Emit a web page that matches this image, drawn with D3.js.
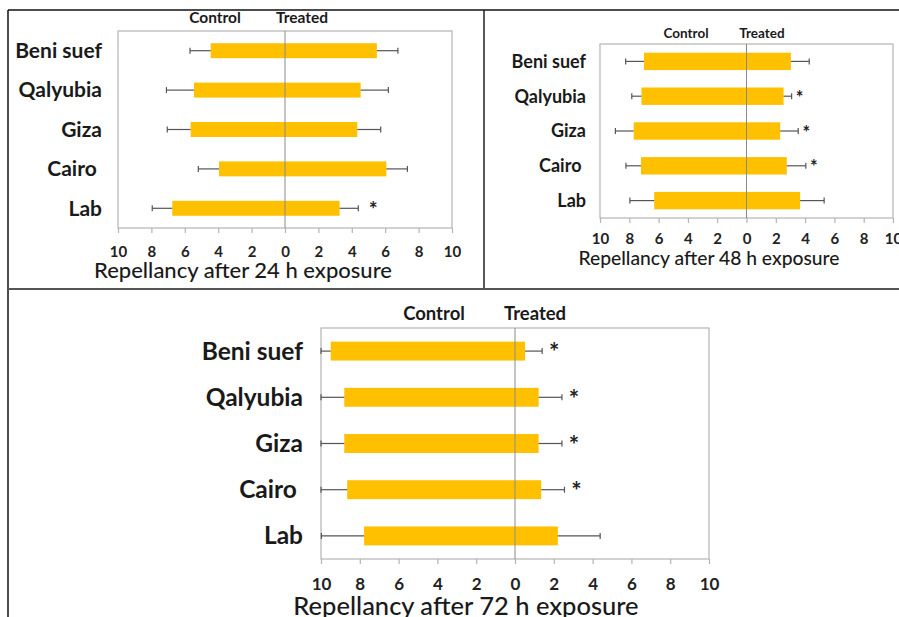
<!DOCTYPE html>
<html>
<head>
<meta charset="utf-8">
<script src="https://cdn.jsdelivr.net/npm/d3@7"></script>
<style>
  body { margin: 0; background: #fff; }
  svg { display: block; font-family: Lato, "Open Sans", sans-serif; }
</style>
</head>
<body>
<div id="chart"></div>
<script>
// regions tested (same order in every panel)
const regions = ["Beni suef", "Qalyubia", "Giza", "Cairo", "Lab"];
const tickVals = [-10, -8, -6, -4, -2, 0, 2, 4, 6, 8, 10];

// 24 h
const control24 = [4.45, 5.45, 5.65, 3.95, 6.75];
const controlErr24 = [1.24, 1.65, 1.4, 1.24, 1.2];
const treated24 = [5.5, 4.53, 4.33, 6.07, 3.27];
const treatedErr24 = [1.26, 1.66, 1.4, 1.26, 1.12];
const signif24 = [false, false, false, false, true];

// 48 h
const control48 = [7.0, 7.17, 7.7, 7.2, 6.3];
const controlErr48 = [1.25, 0.66, 1.25, 1.03, 1.66];
const treated48 = [3.03, 2.53, 2.3, 2.75, 3.66];
const treatedErr48 = [1.25, 0.55, 1.23, 1.3, 1.64];
const signif48 = [false, true, true, true, false];

// 72 h
const control72 = [9.5, 8.8, 8.8, 8.65, 7.78];
const controlErr72 = [0.5, 1.2, 1.2, 1.35, 2.2];
const treated72 = [0.52, 1.22, 1.22, 1.35, 2.21];
const treatedErr72 = [0.88, 1.2, 1.2, 1.2, 2.18];
const signif72 = [true, true, true, true, false];

const width = 899, height = 617;

const svg = d3.select("#chart")
  .append("svg")
  .attr("width", width)
  .attr("height", height);

// panel frame lines
svg.append("line").attr("x1", 8).attr("x2", 899).attr("y1", 10).attr("y2", 10)
  .attr("stroke", "#111").attr("stroke-width", 1.5);
svg.append("line").attr("x1", 8).attr("x2", 8).attr("y1", 10).attr("y2", 617)
  .attr("stroke", "#111").attr("stroke-width", 1.5);
svg.append("line").attr("x1", 484).attr("x2", 484).attr("y1", 10).attr("y2", 289)
  .attr("stroke", "#222").attr("stroke-width", 1.5);
svg.append("line").attr("x1", 8).attr("x2", 899).attr("y1", 289).attr("y2", 289)
  .attr("stroke", "#555").attr("stroke-width", 2);

const panels = [
  {
    control: control24, controlErr: controlErr24, treated: treated24, treatedErr: treatedErr24, signif: signif24,
    title: "Repellancy after 24 h exposure",
    left: 118, right: 452, top: 31, bottom: 228, pad: 0.62,
    catX: 102, catSize: 21, headY: 18, headSize: 15.5, ctrlX: 215, treatX: 302,
    tickY: 252, tickSize: 15, titleX: 243, titleY: 270, titleSize: 22, starGap: 15
  },
  {
    control: control48, controlErr: controlErr48, treated: treated48, treatedErr: treatedErr48, signif: signif48,
    title: "Repellancy after 48 h exposure",
    left: 600, right: 893, top: 44, bottom: 218, pad: 0.5,
    catX: 586, catSize: 18, headY: 33, headSize: 13.5, ctrlX: 686, treatX: 762,
    tickY: 239, tickSize: 15, titleX: 709, titleY: 258, titleSize: 19.3, starGap: 8
  },
  {
    control: control72, controlErr: controlErr72, treated: treated72, treatedErr: treatedErr72, signif: signif72,
    title: "Repellancy after 72 h exposure",
    left: 321, right: 709, top: 328, bottom: 559, pad: 0.59,
    catX: 303, catSize: 24.5, headY: 314, headSize: 18.5, ctrlX: 434, treatX: 535,
    tickY: 584, tickSize: 17, titleX: 466, titleY: 606, titleSize: 25.5, starGap: 12
  }
];

panels.forEach(p => drawPanel(p));

function drawPanel(p) {
  const g = svg.append("g");

  const x = d3.scaleLinear().domain([-10, 10]).range([p.left, p.right]);
  const y = d3.scaleBand().domain(regions).range([p.top, p.bottom]).paddingInner(p.pad).paddingOuter(p.pad / 2);

  const rows = regions.map((r, i) => ({
    region: r,
    control: p.control[i], controlErr: p.controlErr[i],
    treated: p.treated[i], treatedErr: p.treatedErr[i],
    signif: p.signif[i]
  }));

  // plot box
  g.append("rect")
    .attr("x", p.left).attr("y", p.top)
    .attr("width", p.right - p.left).attr("height", p.bottom - p.top)
    .attr("fill", "none").attr("stroke", "#b4b4b4").attr("stroke-width", 1.2);

  // bars: control to the left, treated to the right
  g.selectAll(".bar").data(rows).enter().append("rect")
    .attr("x", d => x(-d.control))
    .attr("y", d => y(d.region))
    .attr("width", d => x(d.treated) - x(-d.control))
    .attr("height", y.bandwidth())
    .attr("fill", "#ffc000");

  // zero line
  g.append("line")
    .attr("x1", x(0)).attr("x2", x(0))
    .attr("y1", p.top).attr("y2", p.bottom)
    .attr("stroke", "#8a8a8a").attr("stroke-width", 1);

  // error bars
  const errs = [];
  rows.forEach(d => {
    errs.push({ region: d.region, from: -d.control, to: Math.max(-10, -d.control - d.controlErr) });
    errs.push({ region: d.region, from: d.treated, to: Math.min(10, d.treated + d.treatedErr) });
  });
  const eb = g.selectAll(".err").data(errs).enter().append("g")
    .attr("stroke", "#555").attr("stroke-width", 1.2);
  eb.append("line")
    .attr("x1", d => x(d.from)).attr("x2", d => x(d.to))
    .attr("y1", d => y(d.region) + y.bandwidth() / 2)
    .attr("y2", d => y(d.region) + y.bandwidth() / 2);
  eb.append("line")
    .attr("x1", d => x(d.to)).attr("x2", d => x(d.to))
    .attr("y1", d => y(d.region) + y.bandwidth() / 2 - 3)
    .attr("y2", d => y(d.region) + y.bandwidth() / 2 + 3);

  // significance marks
  g.selectAll(".star").data(rows.filter(d => d.signif)).enter().append("text")
    .attr("x", d => x(d.treated + d.treatedErr) + p.starGap)
    .attr("y", d => y(d.region) + y.bandwidth() / 2 + p.catSize * 0.42)
    .attr("text-anchor", "middle")
    .attr("font-weight", 700)
    .attr("font-size", p.catSize)
    .attr("fill", "#222")
    .text("*");

  // x axis
  const axis = d3.axisBottom(x).tickValues(tickVals).tickSize(5).tickFormat(d => Math.abs(d));
  const ax = g.append("g").attr("transform", `translate(0,${p.bottom})`).call(axis);
  ax.select(".domain").remove();
  ax.selectAll(".tick line").attr("stroke", "#b4b4b4").attr("stroke-width", 1.2);
  ax.selectAll(".tick text")
    .attr("y", p.tickY - p.bottom).attr("dy", "0.35em")
    .attr("font-family", "Lato, sans-serif")
    .attr("font-size", p.tickSize).attr("font-weight", 700).attr("fill", "#222");

  // category labels
  g.selectAll(".cat").data(regions).enter().append("text")
    .attr("x", d => d === "Cairo" ? p.catX - p.catSize * 0.25 : p.catX)
    .attr("y", d => y(d) + y.bandwidth() / 2)
    .attr("dy", "0.35em")
    .attr("text-anchor", "end")
    .attr("font-size", p.catSize).attr("font-weight", 700).attr("fill", "#1a1a1a")
    .text(d => d);

  // Control / Treated headings
  g.append("text").attr("x", p.ctrlX).attr("y", p.headY).attr("dy", "0.35em")
    .attr("text-anchor", "middle").attr("font-size", p.headSize).attr("font-weight", 700)
    .attr("fill", "#1a1a1a").text("Control");
  g.append("text").attr("x", p.treatX).attr("y", p.headY).attr("dy", "0.35em")
    .attr("text-anchor", "middle").attr("font-size", p.headSize).attr("font-weight", 700)
    .attr("fill", "#1a1a1a").text("Treated");

  // axis title
  g.append("text").attr("x", p.titleX).attr("y", p.titleY).attr("dy", "0.35em")
    .attr("text-anchor", "middle").attr("font-size", p.titleSize).attr("font-weight", 500)
    .attr("fill", "#1a1a1a").text(p.title);
}
</script>
</body>
</html>
